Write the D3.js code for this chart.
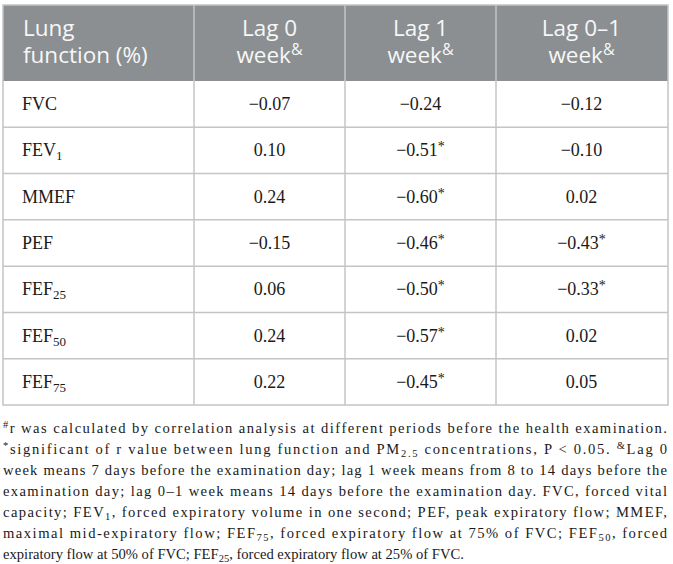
<!DOCTYPE html>
<html lang="en">
<head>
<meta charset="utf-8">
<title>Lung function and PM2.5 correlation</title>
<script src="https://d3js.org/d3.v7.min.js"></script>
<style>
  body { margin: 0; background: #fff; }
  .head text { font-family: "Open Sans", sans-serif; fill: #f7f7f7; }
  .body text { font-family: "Liberation Serif", serif; fill: #1a1a1a; }
  .note text { font-family: "Liberation Serif", serif; fill: #1a1a1a; }
</style>
</head>
<body>
<div id="chart"></div>
<script>
"use strict"

// dados da tabela
var headLines = [["Lung", "function (%)"], ["Lag 0", "week"], ["Lag 1", "week"], ["Lag 0\u20131", "week"]];
var headSup = ["", "&", "&", "&"];
var rowLabels = ["FVC", "FEV", "MMEF", "PEF", "FEF", "FEF", "FEF"];
var rowSubs = ["", "1", "", "", "25", "50", "75"];
var lag0 = [-0.07, 0.10, 0.24, -0.15, 0.06, 0.24, 0.22];
var lag1 = [-0.24, -0.51, -0.60, -0.46, -0.50, -0.57, -0.45];
var lag01 = [-0.12, -0.10, 0.02, -0.43, -0.33, 0.02, 0.05];
var sig0 = [false, false, false, false, false, false, false];
var sig1 = [false, true, true, true, true, true, true];
var sig01 = [false, false, false, true, true, false, false];

// notas de rodape: [texto, tipo]
var notes = [
  [["#", "sup"], ["r was calculated by correlation analysis at different periods before the health examination.", ""]],
  [["*", "sup"], ["significant of r value between lung function and PM", ""], ["2.5", "sub"], [" concentrations, P < 0.05. ", ""], ["&", "sup"], ["Lag 0", ""]],
  [["week means 7 days before the examination day; lag 1 week means from 8 to 14 days before the", ""]],
  [["examination day; lag 0\u20131 week means 14 days before the examination day. FVC, forced vital", ""]],
  [["capacity; FEV", ""], ["1", "sub"], [", forced expiratory volume in one second; PEF, peak expiratory flow; MMEF,", ""]],
  [["maximal mid-expiratory flow; FEF", ""], ["75", "sub"], [", forced expiratory flow at 75% of FVC; FEF", ""], ["50", "sub"], [", forced", ""]],
  [["expiratory flow at 50% of FVC; FEF", ""], ["25", "sub"], [", forced expiratory flow at 25% of FVC.", ""]]
];

var W = 673, H = 564;
var leftX = 3, rightX = 668, topY = 5, headH = 76, tableBottom = 405;
var colW = [191, 151, 151, 171];

var svg = d3.select('#chart').append('svg')
  .attr('width', W).attr('height', H);

var edges = [leftX];
colW.forEach(function (w) { edges.push(edges[edges.length - 1] + w); });

var y = d3.scaleBand()
  .domain(d3.range(rowLabels.length))
  .range([topY + headH, tableBottom]);

var fmt = d3.format(".2f");
var cols = [lag0, lag1, lag01];
var sigs = [sig0, sig1, sig01];

// cabecalho
svg.append('rect')
  .attr('x', leftX).attr('y', topY)
  .attr('width', rightX - leftX).attr('height', headH)
  .attr('fill', '#8b8f92');

var head = svg.append('g').attr('class', 'head');
headLines.forEach(function (lines, c) {
  var isFirst = c === 0;
  var hx = isFirst ? edges[0] + 20 : (edges[c] + edges[c + 1]) / 2;
  var tx = head.append('text')
    .attr('x', hx)
    .attr('y', topY + 31)
    .attr('text-anchor', isFirst ? 'start' : 'middle')
    .attr('font-size', 22.5);
  tx.append('tspan').attr('x', hx).text(lines[0]);
  // segunda linha no mesmo <text>, com o & como sobrescrito
  var l2 = tx.append('tspan').attr('x', hx).attr('dy', 27);
  l2.append('tspan').text(lines[1]);
  if (headSup[c]) {
    l2.append('tspan').attr('dy', -8).attr('font-size', 16).text(headSup[c]);
  }
});

// linhas e valores
var body = svg.append('g').attr('class', 'body');
rowLabels.forEach(function (lab, r) {
  var ty = y(r) + y.bandwidth() / 2 + 6;
  var t = body.append('text').attr('x', leftX + 19).attr('y', ty).attr('font-size', 18);
  t.append('tspan').text(lab);
  if (rowSubs[r]) t.append('tspan').attr('dy', 4).attr('font-size', 13).text(rowSubs[r]);

  cols.forEach(function (vals, c) {
    var v = body.append('text')
      .attr('x', (edges[c + 1] + edges[c + 2]) / 2)
      .attr('y', ty)
      .attr('text-anchor', 'middle')
      .attr('font-size', 18);
    v.append('tspan').text(fmt(vals[r]));
    if (sigs[c][r]) v.append('tspan').attr('dy', -5).attr('font-size', 14).text('*');
  });
});

// grade
var grid = svg.append('g').attr('stroke', '#c4c4c4').attr('stroke-width', 1.5).attr('fill', 'none');
grid.selectAll('line.h')
  .data(d3.range(1, rowLabels.length))
  .enter().append('line')
  .attr('x1', leftX).attr('x2', rightX)
  .attr('y1', function (d) { return y(d); })
  .attr('y2', function (d) { return y(d); });
grid.selectAll('line.v')
  .data(edges.slice(1, -1))
  .enter().append('line')
  .attr('x1', function (d) { return d; }).attr('x2', function (d) { return d; })
  .attr('y1', topY).attr('y2', tableBottom);
grid.append('rect')
  .attr('x', leftX).attr('y', topY)
  .attr('width', rightX - leftX).attr('height', tableBottom - topY);

// notas
var note = svg.append('g').attr('class', 'note');
notes.forEach(function (segs, i) {
  var t = note.append('text')
    .attr('x', leftX)
    .attr('y', 433 + i * 21)
    .attr('font-size', 14.6);
  if (i < notes.length - 1) {
    t.attr('textLength', rightX - leftX - 1).attr('lengthAdjust', 'spacing');
  }
  var shift = 0;
  segs.forEach(function (s) {
    var sp = t.append('tspan').text(s[0]);
    var target = s[1] === 'sup' ? -5 : s[1] === 'sub' ? 3 : 0;
    if (target !== shift) { sp.attr('dy', target - shift); shift = target; }
    if (s[1]) sp.attr('font-size', 10.5);
  });
});
</script>
</body>
</html>
